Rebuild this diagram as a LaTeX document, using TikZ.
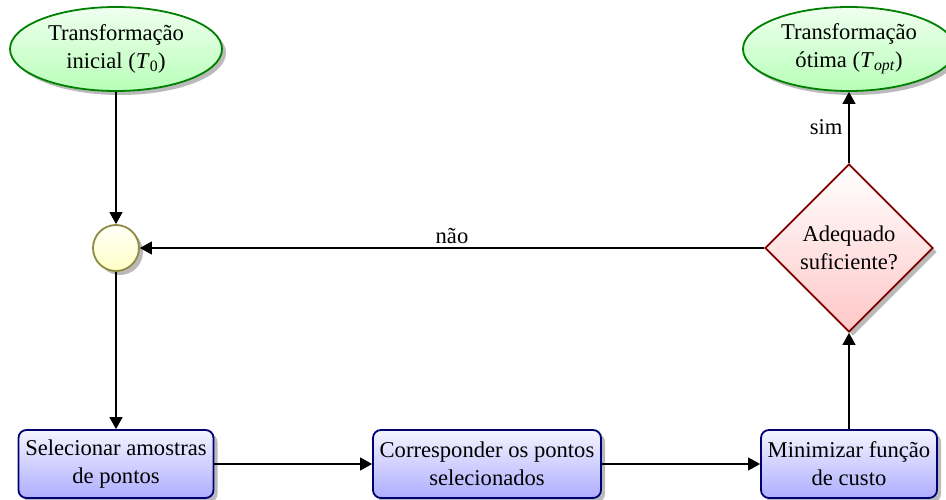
\documentclass[tikz,border=0pt]{standalone}
\usepackage{fontspec}
\setmainfont{Liberation Serif}
\usetikzlibrary{shapes.geometric,shadows,arrows.meta}
\begin{document}
\begin{tikzpicture}[x=1pt,y=-1pt,
  every node/.style={font=\fontsize{22.6}{28}\selectfont},
  conn/.style={line width=1.1pt,-{Triangle[length=12pt,width=13pt]}},
  shad/.style={drop shadow={shadow xshift=4pt,shadow yshift=-4pt,opacity=0.45,fill=black!60}},
  terminal/.style={ellipse,draw=green!50!black,line width=1.8pt,top color=green!6,bottom color=green!28,
    minimum width=212pt,minimum height=84pt,inner sep=0pt,align=center,shad},
  junction/.style={circle,draw=olive!55!gray,line width=1.8pt,top color=yellow!3,bottom color=yellow!22,
    minimum size=46pt,inner sep=0pt,shad},
  decision/.style={diamond,draw=red!50!black,line width=1.8pt,top color=white,bottom color=red!22,
    minimum width=168pt,minimum height=168pt,inner sep=0pt,align=center,shad},
  process/.style={rectangle,rounded corners=8pt,draw=blue!45!black,line width=1.8pt,top color=blue!4,bottom color=blue!32,
    minimum height=68pt,inner sep=0pt,align=center,shad}]
\useasboundingbox (0,0) rectangle (946,500);
\node[terminal] (e1) at (116,49) {Transformação\\inicial (\textit{T}\textsubscript{0})};
\node[terminal] (e2) at (849,49) {Transformação\\ótima (\textit{T}\textsubscript{\textit{opt}})};
\node[junction] (c) at (116,248) {};
\node[decision] (d) at (849,248) {Adequado\\suficiente?};
\node[process,minimum width=195pt] (b1) at (116,464) {Selecionar amostras\\de pontos};
\node[process,minimum width=228pt] (b2) at (487,464) {Corresponder os pontos\\selecionados};
\node[process,minimum width=176pt] (b3) at (849,464) {Minimizar função\\de custo};
\draw[conn] (e1) -- (c);
\draw[conn] (c) -- (b1);
\draw[conn] (b1) -- (b2);
\draw[conn] (b2) -- (b3);
\draw[conn] (b3) -- (d);
\draw[conn] (d) -- node[left,inner sep=6pt] {sim} (e2);
\draw[conn] (d) -- node[above,inner sep=4pt] {não} (c);
\end{tikzpicture}
\end{document}
